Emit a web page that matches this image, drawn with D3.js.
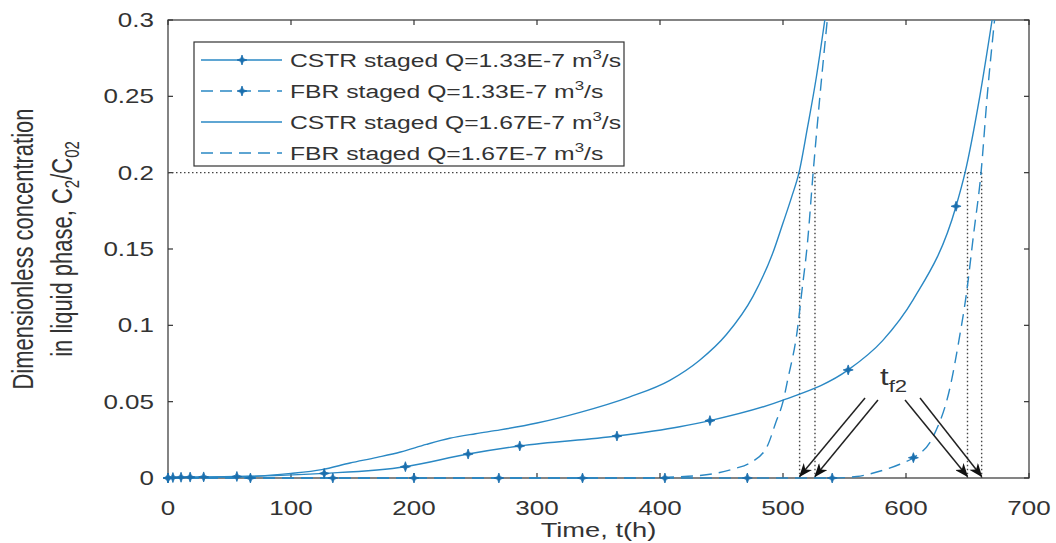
<!DOCTYPE html>
<html>
<head>
<meta charset="utf-8">
<script src="https://cdn.jsdelivr.net/npm/d3@7"></script>
<style>
  body { margin: 0; background: #fff; }
  svg { display: block; font-family: "Liberation Sans", Arial, sans-serif; }
</style>
</head>
<body>
<svg class="chart" width="1056" height="543"></svg>
<script>
// Static data
const tTicks = [0, 100, 200, 300, 400, 500, 600, 700];
const cTicks = [0, 0.05, 0.1, 0.15, 0.2, 0.25, 0.3];

// CSTR staged Q=1.33E-7
const cstr133T = [0, 4, 10.6, 18, 29, 56, 127, 193, 244, 286, 365, 416, 440.6, 500, 553, 581, 606, 640.7, 648, 660, 670];
const cstr133V = [0, 0.0003, 0.0005, 0.0006, 0.0007, 0.001, 0.003, 0.0074, 0.0157, 0.021, 0.0275, 0.0336, 0.0376, 0.051, 0.0708, 0.09, 0.117, 0.178, 0.2, 0.25, 0.3];
const cstr133MarkT = [0, 4, 10.6, 18, 29, 56, 127, 193, 244, 286, 365, 440.6, 553, 640.7];
const cstr133MarkV = [0, 0.0003, 0.0005, 0.0006, 0.0007, 0.001, 0.003, 0.0074, 0.0157, 0.021, 0.0275, 0.0376, 0.0708, 0.178];

// FBR staged Q=1.33E-7
const fbr133T = [0, 540, 560, 581, 595, 606, 622, 636, 643, 649, 655, 661, 666, 672];
const fbr133V = [0, 0, 0.001, 0.005, 0.009, 0.0133, 0.027, 0.06, 0.09, 0.12, 0.16, 0.2, 0.25, 0.3];
const fbr133MarkT = [0, 67, 134, 200, 269, 337, 404, 471, 540, 606];
const fbr133MarkV = [0, 0, 0, 0, 0, 0, 0, 0, 0, 0.0133];

// CSTR staged Q=1.67E-7
const cstr167T = [0, 30, 67, 100, 125, 148, 170, 189, 210, 229, 250, 270, 300, 335, 375, 408, 432, 454, 475.6, 492, 500, 507, 513, 520, 527, 534];
const cstr167V = [0, 0.0005, 0.001, 0.003, 0.0055, 0.0098, 0.0135, 0.017, 0.022, 0.026, 0.029, 0.0315, 0.036, 0.043, 0.053, 0.064, 0.077, 0.094, 0.119, 0.148, 0.167, 0.184, 0.2, 0.23, 0.262, 0.3];

// FBR staged Q=1.67E-7
const fbr167T = [0, 380, 420, 445, 460, 473, 487, 494, 500, 504, 512, 515, 520, 524.5, 530, 536];
const fbr167V = [0, 0, 0.001, 0.003, 0.006, 0.0098, 0.0205, 0.036, 0.05, 0.065, 0.099, 0.12, 0.155, 0.2, 0.25, 0.3];

// t_f2 crossing times at C2/C02 = 0.2
const tfLevel = 0.2;
const tfTimes = [513.5, 526, 650, 661.5];
// arrow tails (data units) pointing to each t_f2
const arrowFromT = [566.7, 577.2, 599.2, 611.4];
const arrowFromV = [0.0524, 0.0511, 0.0511, 0.0524];

const legendLabels = ['CSTR staged Q=1.33E-7 m', 'FBR staged Q=1.33E-7 m', 'CSTR staged Q=1.67E-7 m', 'FBR staged Q=1.67E-7 m'];

// layout
const margin = { top: 20, right: 27, bottom: 65, left: 168 };
const width = 1056, height = 543;
const sx = 1.3;               // the figure is stretched horizontally
const blue = '#2a88c4';
const markBlue = '#1a6fae';
const ink = '#333';

const svg = d3.select('.chart');

const x = d3.scaleLinear().domain([0, 700]).range([margin.left, width - margin.right]);
const y = d3.scaleLinear().domain([0, 0.3]).range([height - margin.bottom, margin.top]);

function stext(g, px, py, size, anchor) {
  return g.append('text')
    .attr('transform', `translate(${px},${py}) scale(${sx},1)`)
    .attr('font-size', size)
    .attr('text-anchor', anchor)
    .attr('fill', ink);
}

const zip = (a, b) => a.map((d, i) => [d, b[i]]);

// clip
const defs = svg.append('defs');
defs.append('clipPath').attr('id', 'plot-clip')
  .append('rect')
  .attr('x', x(0) - 5).attr('y', y(0.3))
  .attr('width', x(700) - x(0) + 5).attr('height', y(0) - y(0.3) + 5);

defs.append('marker')
  .attr('id', 'arrow')
  .attr('viewBox', '0 0 14 11')
  .attr('refX', 13).attr('refY', 5.5)
  .attr('markerWidth', 14).attr('markerHeight', 11)
  .attr('markerUnits', 'userSpaceOnUse')
  .attr('orient', 'auto')
  .append('path')
  .attr('d', 'M0,0 L14,5.5 L0,11 L4,5.5 Z')
  .attr('fill', '#111');

// box
svg.append('rect')
  .attr('x', x(0)).attr('y', y(0.3))
  .attr('width', x(700) - x(0)).attr('height', y(0) - y(0.3))
  .attr('fill', 'none').attr('stroke', ink).attr('stroke-width', 1.2);

// ticks (inside, all four sides)
const tickLen = 5;
const tickG = svg.append('g').attr('stroke', ink).attr('stroke-width', 1.2);
tTicks.forEach(t => {
  tickG.append('line').attr('x1', x(t)).attr('x2', x(t)).attr('y1', y(0)).attr('y2', y(0) - tickLen);
  tickG.append('line').attr('x1', x(t)).attr('x2', x(t)).attr('y1', y(0.3)).attr('y2', y(0.3) + tickLen);
});
cTicks.forEach(c => {
  tickG.append('line').attr('y1', y(c)).attr('y2', y(c)).attr('x1', x(0)).attr('x2', x(0) + tickLen);
  tickG.append('line').attr('y1', y(c)).attr('y2', y(c)).attr('x1', x(700)).attr('x2', x(700) - tickLen);
});

// tick labels
const labG = svg.append('g');
tTicks.forEach(t => stext(labG, x(t), y(0) + 37, 20, 'middle').text(t));
cTicks.forEach(c => stext(labG, x(0) - 14, y(c) + 7, 20, 'end').text(c));

// axis titles
stext(svg, (x(0) + x(700)) / 2, 537, 21, 'middle').text('Time, t(h)');

const yl = svg.append('g').attr('transform', `translate(0,${(y(0) + y(0.3)) / 2}) scale(${sx},1)`);
yl.append('text').attr('transform', 'translate(25,0) rotate(-90)')
  .attr('text-anchor', 'middle').attr('font-size', 22).attr('fill', ink)
  .text('Dimensionless concentration');
const yl2 = yl.append('text').attr('transform', 'translate(55,0) rotate(-90)')
  .attr('text-anchor', 'middle').attr('font-size', 22).attr('fill', ink);
yl2.append('tspan').text('in liquid phase, C');
yl2.append('tspan').attr('dy', 6).attr('font-size', 15).text('2');
yl2.append('tspan').attr('dy', -6).text('/C');
yl2.append('tspan').attr('dy', 6).attr('font-size', 15).text('02');

// reference dotted lines at C2/C02 = 0.2
const refG = svg.append('g').attr('stroke', '#444').attr('stroke-width', 1.4)
  .attr('stroke-dasharray', '1.5,2.5').attr('fill', 'none');
refG.append('line')
  .attr('x1', x(0)).attr('x2', x(d3.max(tfTimes)))
  .attr('y1', y(tfLevel)).attr('y2', y(tfLevel));
tfTimes.forEach(t => {
  refG.append('line').attr('x1', x(t)).attr('x2', x(t)).attr('y1', y(tfLevel)).attr('y2', y(0));
});

// curves
const line = d3.line().x(d => x(d[0])).y(d => y(d[1])).curve(d3.curveMonotoneX);
const plot = svg.append('g').attr('clip-path', 'url(#plot-clip)');

const series = [
  { pts: zip(cstr133T, cstr133V), dash: null },
  { pts: zip(fbr133T, fbr133V), dash: '12,7' },
  { pts: zip(cstr167T, cstr167V), dash: null },
  { pts: zip(fbr167T, fbr167V), dash: '12,7' }
];
series.forEach(s => {
  plot.append('path').datum(s.pts)
    .attr('d', line)
    .attr('fill', 'none')
    .attr('stroke', blue)
    .attr('stroke-width', 1.4)
    .attr('stroke-dasharray', s.dash);
});

const star = 'M0,-5 L1.3,-1.3 L5,0 L1.3,1.3 L0,5 L-1.3,1.3 L-5,0 L-1.3,-1.3 Z';
function drawMarks(g, pts) {
  g.selectAll(null).data(pts).enter().append('path')
    .attr('transform', d => `translate(${x(d[0])},${y(d[1])})`)
    .attr('d', star)
    .attr('fill', markBlue)
    .attr('stroke', markBlue)
    .attr('stroke-width', 0.8);
}
drawMarks(svg.append('g'), zip(cstr133MarkT, cstr133MarkV));
drawMarks(svg.append('g'), zip(fbr133MarkT, fbr133MarkV));

// t_f2 annotation
const ann = svg.append('g');
tfTimes.forEach((t, i) => {
  ann.append('line')
    .attr('x1', x(arrowFromT[i])).attr('y1', y(arrowFromV[i]))
    .attr('x2', x(t)).attr('y2', y(0.001))
    .attr('stroke', '#222').attr('stroke-width', 1.5)
    .attr('marker-end', 'url(#arrow)');
});
const tf = stext(ann, 880, 385, 24, 'start');
tf.append('tspan').text('t');
tf.append('tspan').attr('dy', 7).attr('font-size', 17).text('f2');

// legend
const lg = svg.append('g');
lg.append('rect')
  .attr('x', 194).attr('y', 42).attr('width', 430).attr('height', 124)
  .attr('fill', '#fff').attr('stroke', ink).attr('stroke-width', 1.2);
const legendDash = [null, '12,7', null, '12,7'];
const legendMark = [true, true, false, false];
legendLabels.forEach((lab, i) => {
  const ly = 60 + i * 31;
  lg.append('line')
    .attr('x1', 201).attr('x2', 282).attr('y1', ly).attr('y2', ly)
    .attr('stroke', blue).attr('stroke-width', 1.4)
    .attr('stroke-dasharray', legendDash[i]);
  if (legendMark[i]) {
    lg.append('path').attr('transform', `translate(242,${ly})`).attr('d', star)
      .attr('fill', markBlue).attr('stroke', markBlue).attr('stroke-width', 0.8);
  }
  const t = stext(lg, 290, ly + 7, 19, 'start');
  t.append('tspan').text(lab);
  t.append('tspan').attr('dy', -8).attr('font-size', 13).text('3');
  t.append('tspan').attr('dy', 8).text('/s');
});
</script>
</body>
</html>
